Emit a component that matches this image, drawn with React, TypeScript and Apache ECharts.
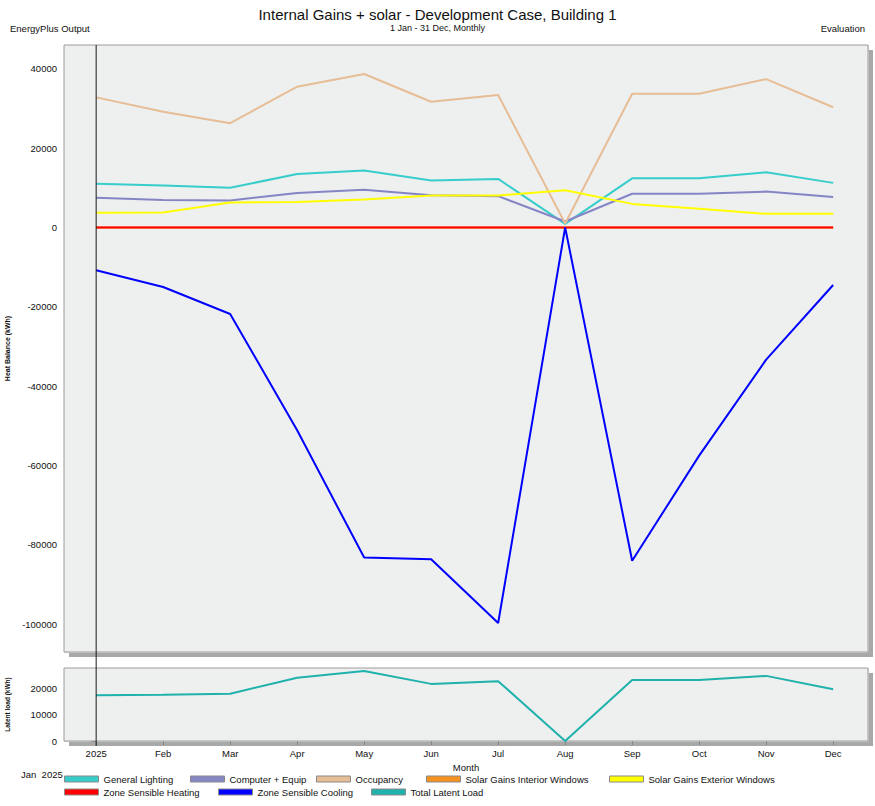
import React, { useEffect, useRef } from 'react';
import * as echarts from 'echarts';

const months = ['2025', 'Feb', 'Mar', 'Apr', 'May', 'Jun', 'Jul', 'Aug', 'Sep', 'Oct', 'Nov', 'Dec'];
const generalLighting = [11000, 10600, 10000, 13500, 14350, 11850, 12250, 900, 12400, 12400, 13900, 11250];
const computerEquip = [7500, 6950, 6800, 8700, 9500, 8100, 7900, 1500, 8500, 8500, 9050, 7700];
const occupancy = [32800, 29200, 26300, 35500, 38700, 31700, 33400, 1000, 33700, 33700, 37400, 30300];
const solarInterior = [0, 0, 0, 0, 0, 0, 0, 0, 0, 0, 0, 0];
const solarExterior = [3700, 3800, 6300, 6400, 7050, 8050, 8050, 9400, 5950, 4700, 3450, 3450];
const zoneHeating = [0, 0, 0, 0, 0, 0, 0, 0, 0, 0, 0, 0];
const zoneCooling = [-10800, -15000, -21800, -51100, -83200, -83600, -99700, 0, -84000, -57500, -33300, -14500];
const totalLatent = [17400, 17600, 18000, 24100, 26650, 21750, 22800, 0, 23200, 23200, 24800, 19700];

const FONT = "'Liberation Sans', Arial, sans-serif";

const toPairs = (arr: number[]) => arr.map((v, i) => [i, v]);

export default function App() {
  const ref = useRef<HTMLDivElement>(null);
  useEffect(() => {
    document.body.style.margin = '0';
    const chart = echarts.init(ref.current!, null, { renderer: 'svg' });
    const mainSeries = [
      { name: 'General Lighting', data: generalLighting, color: '#36cdcb' },
      { name: 'Computer + Equip', data: computerEquip, color: '#8585c6' },
      { name: 'Occupancy', data: occupancy, color: '#e6bd95' },
      { name: 'Solar Gains Interior Windows', data: solarInterior, color: '#f5921e' },
      { name: 'Solar Gains Exterior Windows', data: solarExterior, color: '#ffff00' },
      { name: 'Zone Sensible Heating', data: zoneHeating, color: '#ff0000' },
      { name: 'Zone Sensible Cooling', data: zoneCooling, color: '#0000ff' },
    ];
    const series: any[] = mainSeries.map((s) => ({
      name: s.name,
      type: 'line',
      xAxisIndex: 0,
      yAxisIndex: 0,
      data: toPairs(s.data),
      color: s.color,
      showSymbol: false,
      symbol: 'none',
      lineStyle: { width: 2, color: s.color },
    }));
    series.push({
      name: 'Total Latent Load',
      type: 'line',
      xAxisIndex: 1,
      yAxisIndex: 1,
      data: toPairs(totalLatent),
      color: '#1fb1ab',
      showSymbol: false,
      symbol: 'none',
      lineStyle: { width: 2, color: '#1fb1ab' },
    });

    const legendPos: [string, number, number][] = [
      ['General Lighting', 64, 774],
      ['Computer + Equip', 190, 774],
      ['Occupancy', 316, 774],
      ['Solar Gains Interior Windows', 426, 774],
      ['Solar Gains Exterior Windows', 609, 774],
      ['Zone Sensible Heating', 64, 787],
      ['Zone Sensible Cooling', 218, 787],
      ['Total Latent Load', 371, 787],
    ];

    const xBase = {
      type: 'value',
      min: -0.48,
      max: 11.52,
      splitNumber: 12,
      axisLine: { show: false },
      splitLine: { show: true, lineStyle: { color: '#dcdddd', width: 1 } },
    };

    const textBase = { fontFamily: FONT, color: '#111', fontWeight: 'normal' };
    const plain = (v: number) => String(v);

    chart.setOption({
      animation: false,
      backgroundColor: '#ffffff',
      title: [
        { text: 'Internal Gains + solar - Development Case, Building 1', left: 'center', top: 2, textStyle: { ...textBase, fontSize: 15 } },
        { text: '1 Jan - 31 Dec, Monthly', left: 'center', top: 18, textStyle: { ...textBase, fontSize: 9 } },
        { text: 'EnergyPlus Output', left: 5, top: 18, textStyle: { ...textBase, fontSize: 9.5 } },
        { text: 'Evaluation', right: 5, top: 18, textStyle: { ...textBase, fontSize: 9.5 } },
        { text: 'Jan  2025', left: 16, top: 764, textStyle: { ...textBase, fontSize: 9.5 } },
      ],
      legend: legendPos.map(([name, left, top]) => ({
        data: [name],
        left,
        top,
        icon: 'rect',
        itemWidth: 34,
        itemHeight: 6,
        itemGap: 0,
        padding: 0,
        itemStyle: { borderColor: '#8a8a8a', borderWidth: 1 },
        textStyle: { ...textBase, fontSize: 9.5, padding: [0, 0, 0, 0] },
      })),
      grid: [
        { left: 64, top: 45, right: 7, height: 607, outerBoundsMode: 'none', containLabel: false, show: true, borderColor: '#9c9c9c', borderWidth: 1, backgroundColor: '#eeefef', z: 1 },
        { left: 64, top: 668, right: 7, height: 73, outerBoundsMode: 'none', containLabel: false, show: true, borderColor: '#9c9c9c', borderWidth: 1, backgroundColor: '#eeefef', z: 1 },
      ],
      xAxis: [
        { ...xBase, gridIndex: 0, axisLabel: { show: false }, axisTick: { show: false } },
        {
          ...xBase,
          gridIndex: 1,
          name: 'Month',
          nameLocation: 'middle',
          nameGap: 21,
          nameTextStyle: { ...textBase, fontSize: 9.5 },
          axisTick: { show: true, length: 4, lineStyle: { color: '#888' } },
          axisLabel: {
            ...textBase,
            fontSize: 9.5,
            margin: 7,
            showMinLabel: false,
            showMaxLabel: false,
            formatter: (v: number) => (Number.isInteger(v) ? months[v] : ''),
          },
        },
      ],
      yAxis: [
        {
          type: 'value',
          gridIndex: 0,
          min: -107000,
          max: 46000,
          splitNumber: 8,
          name: 'Heat Balance (kWh)',
          nameLocation: 'middle',
          nameRotate: 90,
          nameGap: 53,
          nameTextStyle: { ...textBase, fontSize: 7, fontWeight: 'bold' },
          axisLine: { show: false },
          axisTick: { show: true, length: 5, lineStyle: { color: '#888' } },
          axisLabel: { ...textBase, fontSize: 9.5, margin: 7, showMinLabel: false, showMaxLabel: false, formatter: plain },
          splitLine: { show: true, lineStyle: { color: '#dcdddd' } },
          splitArea: { show: true, areaStyle: { color: ['#f0f1f1', '#e8eaea'] } },
        },
        {
          type: 'value',
          gridIndex: 1,
          min: 0,
          max: 27800,
          interval: 10000,
          name: 'Latent load (kWh)',
          nameLocation: 'middle',
          nameRotate: 90,
          nameGap: 53,
          nameTextStyle: { ...textBase, fontSize: 6.5, fontWeight: 'bold' },
          axisLine: { show: false },
          axisTick: { show: true, length: 5, lineStyle: { color: '#888' } },
          axisLabel: { ...textBase, fontSize: 9.5, margin: 7, showMaxLabel: false, formatter: plain },
          splitLine: { show: true, lineStyle: { color: '#dcdddd' } },
          splitArea: { show: true, areaStyle: { color: ['#e8eaea', '#f0f1f1'] } },
        },
        {
          type: 'value',
          gridIndex: 0,
          min: -107000,
          max: 46000,
          splitNumber: 8,
          axisLine: { show: false },
          axisLabel: { show: false },
          axisTick: { show: false, inside: true },
          minorTick: { show: true, splitNumber: 4, length: 5, lineStyle: { color: '#ffffff', width: 1 } },
          splitLine: { show: false },
        },
        {
          type: 'value',
          gridIndex: 1,
          min: 0,
          max: 27800,
          interval: 10000,
          axisLine: { show: false },
          axisLabel: { show: false },
          axisTick: { show: false, inside: true },
          minorTick: { show: true, splitNumber: 2, length: 5, lineStyle: { color: '#ffffff', width: 1 } },
          splitLine: { show: false },
        },
      ],
      graphic: [
        { id: 'sh1', type: 'rect', z: -10, shape: { x: 69, y: 50, width: 804, height: 607 }, style: { fill: '#a8a8a8' } },
        { id: 'sh2', type: 'rect', z: -10, shape: { x: 69, y: 673, width: 804, height: 73 }, style: { fill: '#a8a8a8' } },
      ],
      series,
    });

    const x0 = chart.convertToPixel({ xAxisIndex: 0 }, 0) as number;
    chart.setOption({
      graphic: [
        { id: 'sh1' },
        { id: 'sh2' },
        { id: 'janline', type: 'line', z: 50, shape: { x1: x0, y1: 45, x2: x0, y2: 746 }, style: { stroke: '#1a1a1a', lineWidth: 1 } },
      ],
    });

    return () => chart.dispose();
  }, []);
  return <div ref={ref} style={{ width: 875, height: 806 }} />;
}
